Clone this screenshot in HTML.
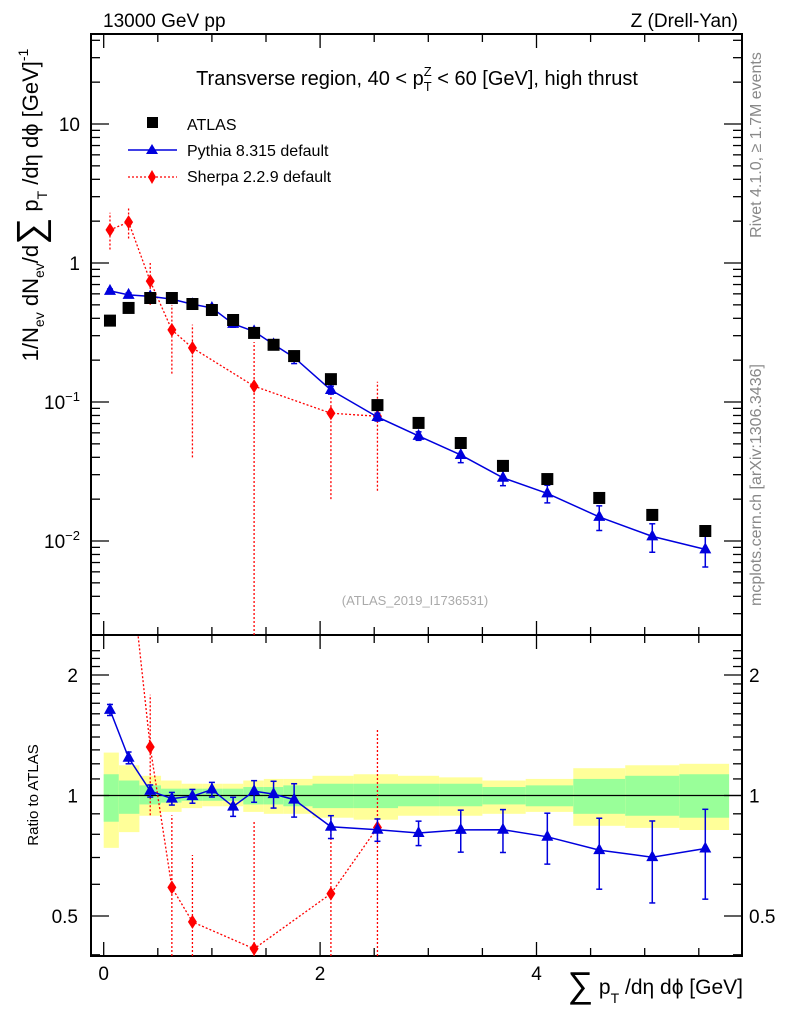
<!DOCTYPE html>
<html><head><meta charset="utf-8"><style>
html,body{margin:0;background:#fff;overflow:hidden;width:786px;height:1024px}
svg{font-family:"Liberation Sans",sans-serif;display:block}
</style></head><body>
<svg id="c" width="786" height="1024" viewBox="0 0 786 1024" xmlns="http://www.w3.org/2000/svg">
<g id="bands"></g>
<g id="grid"></g>
<g id="marks"></g>
<text x="103" y="27" font-size="19">13000 GeV pp</text>
<text x="738" y="27" font-size="19" text-anchor="end">Z (Drell-Yan)</text>
<text x="417" y="85" font-size="20" text-anchor="middle">Transverse region, 40 &lt; p<tspan font-size="13" dy="-9">Z</tspan><tspan font-size="13" dx="-8" dy="15">T</tspan><tspan dy="-6"> &lt; 60 [GeV], high thrust</tspan></text>
<g>
<rect x="147" y="117" width="11" height="11" fill="#000"/>
<text x="187" y="130" font-size="16">ATLAS</text>
<line x1="128" y1="150" x2="177" y2="150" stroke="#0000dd" stroke-width="1.5"/>
<path d="M152,144 L158,154 L146,154 Z" fill="#0000dd"/>
<text x="187" y="156" font-size="16">Pythia 8.315 default</text>
<line x1="128" y1="177" x2="177" y2="177" stroke="#ff0000" stroke-width="1.3" stroke-dasharray="2,2"/>
<path d="M152,170 L156,177 L152,184 L148,177 Z" fill="#ff0000"/>
<text x="187" y="182" font-size="16">Sherpa 2.2.9 default</text>
</g>
<text x="415" y="605" font-size="13" fill="#aaa" text-anchor="middle">(ATLAS_2019_I1736531)</text>
<text transform="translate(761,145) rotate(-90)" font-size="16" fill="#888" text-anchor="middle">Rivet 4.1.0, ≥ 1.7M events</text>
<text transform="translate(761,485) rotate(-90)" font-size="16" fill="#888" text-anchor="middle">mcplots.cern.ch [arXiv:1306.3436]</text>
<text transform="translate(38,205) rotate(-90)" font-size="22" text-anchor="middle">1/N<tspan font-size="14" dy="6">ev</tspan><tspan dy="-6"> dN</tspan><tspan font-size="14" dy="6">ev</tspan><tspan dy="-6">/d</tspan><tspan font-size="38" dy="5">∑</tspan><tspan dy="-5"> p</tspan><tspan font-size="14" dy="9">T</tspan><tspan dy="-9"> /dη dϕ  [GeV]</tspan><tspan font-size="14" dy="-10">-1</tspan></text>
<text transform="translate(38,795) rotate(-90)" font-size="15" text-anchor="middle">Ratio to ATLAS</text>
<text x="743" y="994" font-size="21" text-anchor="end"><tspan font-size="36" dy="3">∑</tspan><tspan dy="-3"> p</tspan><tspan font-size="14" dy="9">T</tspan><tspan dy="-9"> /dη dϕ [GeV]</tspan></text>
</svg>
<script>
const xCenters=[0.058,0.23,0.43,0.63,0.82,1.0,1.196,1.39,1.57,1.76,2.1,2.53,2.91,3.30,3.69,4.1,4.58,5.07,5.56];
const xEdges=[0,0.14,0.33,0.53,0.72,0.91,1.1,1.29,1.48,1.66,1.93,2.31,2.72,3.1,3.5,3.9,4.34,4.82,5.32,5.78];
const atlasVals=[0.385,0.475,0.56,0.56,0.507,0.459,0.389,0.314,0.258,0.214,0.146,0.095,0.0707,0.0507,0.0347,0.0279,0.0204,0.0154,0.0118];
const pythiaVals=[0.63,0.59,0.575,0.55,0.505,0.475,0.365,0.322,0.26,0.209,0.122,0.078,0.057,0.0416,0.0285,0.022,0.0149,0.0108,0.0087];
const pythiaErr=[0.02,0.02,0.02,0.02,0.02,0.02,0.02,0.02,0.02,0.02,0.008,0.005,0.004,0.005,0.0035,0.0032,0.003,0.0025,0.0022];
const sherpaX=[0.058,0.23,0.43,0.63,0.82,1.39,2.1,2.53];
const sherpaVals=[1.73,1.97,0.74,0.33,0.245,0.13,0.083,0.079];
const sherpaLo=[1.25,1.5,0.5,0.16,0.04,0.001,0.02,0.023];
const sherpaHi=[2.3,2.5,1.0,0.5,0.36,0.27,0.13,0.14];
const yellowHi=[1.28,1.19,1.12,1.09,1.07,1.07,1.07,1.09,1.1,1.1,1.12,1.13,1.12,1.11,1.09,1.1,1.17,1.19,1.2];
const yellowLo=[0.74,0.81,0.89,0.91,0.93,0.94,0.94,0.91,0.9,0.9,0.88,0.87,0.89,0.89,0.9,0.91,0.84,0.83,0.82];
const greenHi=[1.13,1.09,1.06,1.04,1.04,1.04,1.04,1.05,1.05,1.06,1.07,1.07,1.07,1.07,1.05,1.06,1.1,1.12,1.13];
const greenLo=[0.86,0.9,0.95,0.96,0.97,0.97,0.97,0.95,0.95,0.94,0.93,0.93,0.94,0.94,0.95,0.94,0.9,0.89,0.88];
const ratioTicks=[0.5,1,2];

const NS='http://www.w3.org/2000/svg';
const L=91,R=742,T=34,M=635,B=956;
const X=v=>103.7+v*108.2;
const Y=v=>263-Math.log10(v)*139;
const RY=v=>795.5-Math.log2(v)*120.5;
const cM=y=>Math.max(T,Math.min(M,y));
const cR=y=>Math.max(M,Math.min(B,y));
function mk(p,tag,a){const e=document.createElementNS(NS,tag);for(const k in a)e.setAttribute(k,a[k]);p.appendChild(e);return e;}
const grid=document.getElementById('grid'),marks=document.getElementById('marks'),bands=document.getElementById('bands');
for(let i=0;i<xCenters.length;i++){
 const w=X(xEdges[i+1])-X(xEdges[i]);
 const y1=mk(bands,'rect',{x:X(xEdges[i]),y:RY(yellowHi[i]),width:w,height:RY(yellowLo[i])-RY(yellowHi[i]),fill:'#ffff99'});
 
 
 const g1=mk(bands,'rect',{x:X(xEdges[i]),y:RY(greenHi[i]),width:w,height:RY(greenLo[i])-RY(greenHi[i]),fill:'#99ff99'});
 
 
}
mk(grid,'line',{x1:L,y1:RY(1),x2:R,y2:RY(1),stroke:'#000','stroke-width':1.3});
mk(grid,'rect',{x:L,y:T,width:R-L,height:M-T,fill:'none',stroke:'#000','stroke-width':2});
mk(grid,'rect',{x:L,y:M,width:R-L,height:B-M,fill:'none',stroke:'#000','stroke-width':2});
for(let v=0;v<=5.5;v+=0.5){const x=X(v),big=(v%2===0);const h=big?14:8;
 [[M,-1],[T,1],[B,-1],[M,1]].forEach(([y,d])=>mk(grid,'line',{x1:x,y1:y,x2:x,y2:y+d*h,stroke:'#000','stroke-width':1.3}));
 if(big){const t=mk(grid,'text',{x:x,y:980,'font-size':19,'text-anchor':'middle'});t.textContent=v;
 
 }}
for(let d=-3;d<=1;d++){for(let m=1;m<=9;m++){const v=m*Math.pow(10,d);const y=Y(v);if(y<T||y>M)continue;const h=m===1?18:9;
 mk(grid,'line',{x1:L,y1:y,x2:L+h,y2:y,stroke:'#000','stroke-width':1.3});mk(grid,'line',{x1:R,y1:y,x2:R-h,y2:y,stroke:'#000','stroke-width':1.3});
 if(m===1){const t=mk(grid,'text',{x:80,y:y+7,'font-size':19,'text-anchor':'end'});
  
  
  if(d>=0)t.textContent=Math.pow(10,d);else{t.textContent='10';const s=mk(t,'tspan',{dy:-8,'font-size':13});s.textContent='−'+(-d);}}}}
const rt=[0.3,0.4,0.5,0.6,0.7,0.8,0.9,1,1.1,1.2,1.3,1.4,1.5,1.6,1.7,1.8,1.9,2,2.1,2.2,2.3];
rt.forEach(v=>{const y=RY(v);if(y<M||y>B)return;const big=(v===1||v===2||v===0.5);const h=big?18:9;
 mk(grid,'line',{x1:L,y1:y,x2:L+h,y2:y,stroke:'#000','stroke-width':1.3});mk(grid,'line',{x1:R,y1:y,x2:R-h,y2:y,stroke:'#000','stroke-width':1.3});});
ratioTicks.forEach(v=>{const y=RY(v)+7;
 const a=mk(grid,'text',{x:78,y:y,'font-size':19,'text-anchor':'end'});a.textContent=v;
 
 
 const b=mk(grid,'text',{x:749,y:y,'font-size':19});b.textContent=v;
 
 });
const defs=mk(marks,'defs',{});
mk(mk(defs,'clipPath',{id:'cm'}),'rect',{x:L,y:T,width:R-L,height:M-T});
mk(mk(defs,'clipPath',{id:'cr'}),'rect',{x:L,y:M,width:R-L,height:B-M});
const gm=mk(marks,'g',{'clip-path':'url(#cm)'}),gr=mk(marks,'g',{'clip-path':'url(#cr)'});
const tri=(g,x,y)=>mk(g,'path',{d:`M${x},${y-7} L${x+6},${y+4} L${x-6},${y+4} Z`,fill:'#0000dd'});
const dia=(g,x,y)=>mk(g,'path',{d:`M${x},${y-7} L${x+4.5},${y} L${x},${y+7} L${x-4.5},${y} Z`,fill:'#ff0000'});
mk(gm,'polyline',{points:sherpaX.map((x,i)=>X(x)+','+cM(Y(sherpaVals[i]))).join(' '),fill:'none',stroke:'#ff0000','stroke-width':1.3,'stroke-dasharray':'2,2'});
sherpaX.forEach((x,i)=>{mk(gm,'line',{x1:X(x),y1:cM(Y(sherpaLo[i])),x2:X(x),y2:cM(Y(sherpaHi[i])),stroke:'#ff0000','stroke-width':1.3,'stroke-dasharray':'2,2'});
 const p=dia(gm,X(x),Y(sherpaVals[i]));});
mk(gm,'polyline',{points:xCenters.map((x,i)=>X(x)+','+Y(pythiaVals[i])).join(' '),fill:'none',stroke:'#0000dd','stroke-width':1.5});
xCenters.forEach((x,i)=>{const a=Y(pythiaVals[i]+pythiaErr[i]),b=Y(pythiaVals[i]-pythiaErr[i]);
 mk(gm,'line',{x1:X(x),y1:a,x2:X(x),y2:b,stroke:'#0000dd','stroke-width':1.5});
 mk(gm,'line',{x1:X(x)-3,y1:a,x2:X(x)+3,y2:a,stroke:'#0000dd','stroke-width':1.5});
 mk(gm,'line',{x1:X(x)-3,y1:b,x2:X(x)+3,y2:b,stroke:'#0000dd','stroke-width':1.5});
 const p=tri(gm,X(x),Y(pythiaVals[i]));});
xCenters.forEach((x,i)=>{const r=mk(gm,'rect',{x:X(x)-6,y:Y(atlasVals[i])-6,width:12,height:12,fill:'#000'});
 
 });
const sr=sherpaX.map((x,i)=>sherpaVals[i]/atlasVals[xCenters.indexOf(x)]);
mk(gr,'polyline',{points:sherpaX.map((x,i)=>X(x)+','+RY(sr[i])).join(' '),fill:'none',stroke:'#ff0000','stroke-width':1.3,'stroke-dasharray':'2,2'});
sherpaX.forEach((x,i)=>{const a=atlasVals[xCenters.indexOf(x)];
 const y1=cR(RY(sherpaLo[i]/a)),y2=cR(RY(sherpaHi[i]/a));
 if(y1!==y2)mk(gr,'line',{x1:X(x),y1:y1,x2:X(x),y2:y2,stroke:'#ff0000','stroke-width':1.3,'stroke-dasharray':'2,2'});
 const yy=RY(sr[i]);if(yy<M||yy>B)return;
 const p=dia(gr,X(x),yy);});
mk(gr,'polyline',{points:xCenters.map((x,i)=>X(x)+','+RY(pythiaVals[i]/atlasVals[i])).join(' '),fill:'none',stroke:'#0000dd','stroke-width':1.5});
xCenters.forEach((x,i)=>{const r=pythiaVals[i]/atlasVals[i],e=pythiaErr[i]/atlasVals[i];const a=RY(r+e),b=RY(r-e);
 mk(gr,'line',{x1:X(x),y1:a,x2:X(x),y2:b,stroke:'#0000dd','stroke-width':1.5});
 mk(gr,'line',{x1:X(x)-3,y1:a,x2:X(x)+3,y2:a,stroke:'#0000dd','stroke-width':1.5});
 mk(gr,'line',{x1:X(x)-3,y1:b,x2:X(x)+3,y2:b,stroke:'#0000dd','stroke-width':1.5});
 const p=tri(gr,X(x),RY(r));});
</script>
</body></html>
